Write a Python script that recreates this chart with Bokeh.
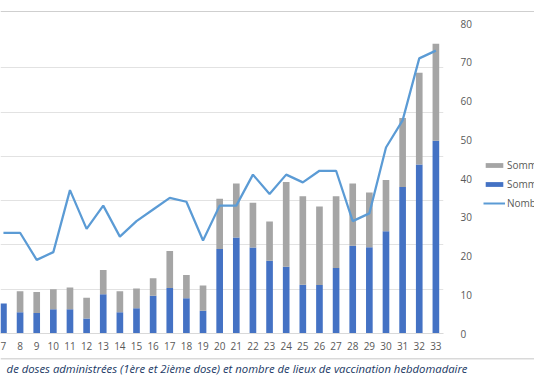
from bokeh.plotting import figure
from bokeh.models import (Range1d, LinearAxis, FixedTicker, Legend, LegendItem,
                          ColumnDataSource, Label, BoxAnnotation)
from bokeh.layouts import column, row
from bokeh.embed import file_html
from bokeh.resources import INLINE

# ---- data ----
weeks = [7, 8, 9, 10, 11, 12, 13, 14, 15, 16, 17, 18, 19, 20,
         21, 22, 23, 24, 25, 26, 27, 28, 29, 30, 31, 32, 33]
# doses (primary, hidden left axis; 7 gridline intervals of 1000)
first_dose = [675, 480, 465, 550, 550, 340, 885, 480, 570, 850, 1025, 795, 515, 1910,
              2170, 1940, 1645, 1505, 1100, 1095, 1480, 1980, 1950, 2310, 3310, 3815, 4350]
total_doses = [675, 955, 935, 1000, 1040, 805, 1435, 955, 1015, 1250, 1865, 1320, 1085, 3045,
               3385, 2950, 2530, 3420, 3100, 2870, 3100, 3385, 3185, 3465, 4865, 5890, 6545]
second_dose = [t - f for t, f in zip(total_doses, first_dose)]
# number of vaccination sites (secondary, right axis 0-80)
sites = [26, 26, 19, 21, 37, 27, 33, 25, 29, 32, 35, 34, 24, 33,
         33, 41, 36, 41, 39, 42, 42, 29, 31, 48, 55, 71, 73]
left_grid = [0, 1000, 2000, 3000, 4000, 5000, 6000, 7000]
right_ticks = [0, 10, 20, 30, 40, 50, 60, 70, 80]

labels = ["Somme de Nombre de 2ème dose",
          "Somme de Nombre de 1ère dose",
          "Nombre de lieux de vaccination"]
caption = ("de doses administrées (1ère et 2ième dose) "
           "et nombre de lieux de vaccination hebdomadaire")

FONT = "Open Sans"
GRAY_TXT = "#595959"
BLUE = "#4472C4"
GRAY = "#A5A5A5"
LINE = "#5B9BD5"

src = ColumnDataSource(dict(week=weeks, first=first_dose, second=second_dose, sites=sites))


def strip(w, h):
    f = figure(width=w, height=h, output_backend="svg", toolbar_location=None,
               x_range=Range1d(0, w), y_range=Range1d(0, h), min_border=0)
    f.axis.visible = False
    f.grid.visible = False
    f.outline_line_color = None
    return f


# ---------- top strip with chart-area border ----------
top = strip(534, 12)
top.add_layout(BoxAnnotation(bottom=0, top=1.5, fill_color="#cfcfcf", fill_alpha=1,
                             line_color=None))

# ---------- main chart ----------
p = figure(width=474, height=343, output_backend="svg", toolbar_location=None,
           x_range=Range1d(6.823, 33.458), y_range=Range1d(0, 7000),
           min_border_left=0, min_border_right=22, min_border_top=11, min_border_bottom=22)
p.outline_line_color = None
p.extra_y_ranges = {"right": Range1d(0, 80)}

p.yaxis.visible = False
p.ygrid.ticker = FixedTicker(ticks=left_grid)
p.ygrid.grid_line_color = "#e2e2e2"
p.xgrid.visible = False

xa = p.xaxis[0]
xa.ticker = FixedTicker(ticks=weeks)
xa.axis_line_color = "#d9d9d9"
xa.major_tick_line_color = None
xa.minor_tick_line_color = None
xa.major_label_standoff = 2
xa.major_label_text_font = FONT
xa.major_label_text_font_size = "10px"
xa.major_label_text_color = GRAY_TXT

ra = LinearAxis(y_range_name="right", ticker=FixedTicker(ticks=right_ticks))
ra.axis_line_color = None
ra.major_tick_line_color = None
ra.minor_tick_line_color = None
ra.major_label_standoff = 11
ra.major_label_text_font = FONT
ra.major_label_text_font_size = "10px"
ra.major_label_text_color = GRAY_TXT
p.add_layout(ra, "right")

p.vbar_stack(["first", "second"], x="week", width=0.4, source=src,
             color=[BLUE, GRAY], line_color=None)
p.line("week", "sites", source=src, y_range_name="right",
       line_color=LINE, line_width=2.25)

# ---------- legend strip (same series, kept out of view) ----------
lg = figure(width=60, height=343, output_backend="svg", toolbar_location=None,
            x_range=Range1d(-100, -99), y_range=Range1d(0, 1), min_border=0)
lg.axis.visible = False
lg.grid.visible = False
lg.outline_line_color = None
lg_bars = lg.vbar_stack(["first", "second"], x="week", width=0.4, source=src,
                        color=[BLUE, GRAY], line_color=None)
lg_line = lg.line("week", "sites", source=src, line_color=LINE, line_width=2)
legend = Legend(items=[LegendItem(label=labels[0], renderers=[lg_bars[1]]),
                       LegendItem(label=labels[1], renderers=[lg_bars[0]]),
                       LegendItem(label=labels[2], renderers=[lg_line])],
                location=(9, 123), orientation="vertical",
                glyph_width=22, glyph_height=6, label_height=13, spacing=5,
                padding=0, margin=0, label_standoff=2,
                label_text_font=FONT, label_text_font_size="10px",
                label_text_color=GRAY_TXT,
                border_line_color=None, background_fill_alpha=0)
lg.add_layout(legend, "center")

# ---------- bottom strip: border + caption ----------
bot = strip(534, 34)
bot.add_layout(BoxAnnotation(bottom=30, top=31.5, fill_color="#d9d9d9", fill_alpha=1,
                             line_color=None))
bot.add_layout(Label(x=467, y=21, x_units="screen", y_units="screen", text=caption,
                     text_align="right", text_baseline="middle",
                     text_font=FONT, text_font_style="italic", text_font_size="11.3px",
                     text_color="#203864"))

layout = column(top, row(p, lg, spacing=0), bot, spacing=0)
open("out.html", "w").write(file_html(layout, INLINE))
